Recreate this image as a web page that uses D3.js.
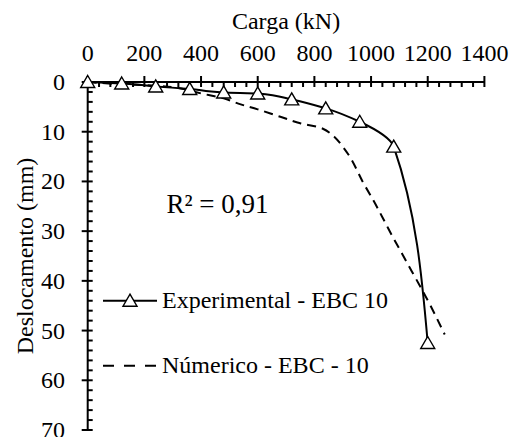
<!DOCTYPE html>
<html><head><meta charset="utf-8">
<script src="https://cdn.jsdelivr.net/npm/d3@7"></script>
<style>body{margin:0;background:#fff}</style>
</head><body>
<svg id="c" width="510" height="437"></svg>
<script>
const xTicks = [0, 200, 400, 600, 800, 1000, 1200, 1400];
const yTicks = [0, 10, 20, 30, 40, 50, 60, 70];
const expLoad = [0, 120, 240, 360, 480, 600, 720, 840, 960, 1080, 1200];
const expDisp = [0, 0.3, 0.9, 1.4, 2.1, 2.3, 3.5, 5.3, 8.0, 13.0, 52.5];
const numLoad = [0, 100, 250, 320, 400, 480, 540, 600, 680, 750, 830, 870, 900, 930, 970, 1010, 1040, 1075, 1110, 1145, 1180, 1210, 1260];
const numDisp = [0, 0.4, 0.8, 1.2, 2.3, 3.3, 4.5, 5.5, 7.0, 8.3, 9.4, 11, 13, 15.5, 20, 24, 27.2, 31, 34.6, 38.2, 41.8, 45, 50.8];
const seriesNames = ["Experimental - EBC 10", "Númerico - EBC - 10"];
const xTitle = "Carga (kN)";
const yTitle = "Deslocamento (mm)";
const r2Label = "R² = 0,91";

const FONT = '"Liberation Serif", monospace';
const svg = d3.select("#c");
const x = d3.scaleLinear().domain([0, 1400]).range([87.7, 484.4]);
const y = d3.scaleLinear().domain([0, 70]).range([82, 430]);

// axes
const g = svg.append("g").attr("stroke", "#000");
g.append("line").attr("x1", x(0)).attr("x2", x(1400)).attr("y1", y(0)).attr("y2", y(0)).attr("stroke-width", 2);
g.append("line").attr("x1", x(0)).attr("x2", x(0)).attr("y1", y(0)).attr("y2", y(70)).attr("stroke-width", 2);
const xMinor = d3.range(0, 1400.1, 40).filter(v => v % 200 !== 0);
const yMinor = d3.range(0, 70.1, 2).filter(v => v % 10 !== 0);
g.selectAll(".xm").data(xMinor).join("line").attr("x1", d => x(d)).attr("x2", d => x(d)).attr("y1", y(0)).attr("y2", y(0) + 5).attr("stroke-width", 2);
g.selectAll(".xM").data(xTicks).join("line").attr("x1", d => x(d)).attr("x2", d => x(d)).attr("y1", y(0) - 6).attr("y2", y(0) + 5).attr("stroke-width", 2);
g.selectAll(".ym").data(yMinor).join("line").attr("y1", d => y(d)).attr("y2", d => y(d)).attr("x1", x(0)).attr("x2", x(0) + 5).attr("stroke-width", 2);
g.selectAll(".yM").data(yTicks).join("line").attr("y1", d => y(d)).attr("y2", d => y(d)).attr("x1", x(0) - 6).attr("x2", x(0) + 5).attr("stroke-width", 2);

// texts directly on the svg
svg.selectAll("text.xl").data(xTicks).join("text").attr("class", "xl").attr("x", d => x(d)).attr("y", 61).attr("text-anchor", "middle").attr("font-size", 24).style("font-family", FONT).text(d => d);
svg.selectAll("text.yl").data(yTicks).join("text").attr("class", "yl").attr("x", 65).attr("y", d => y(d) + 8).attr("text-anchor", "end").attr("font-size", 24).style("font-family", FONT).text(d => d);
svg.append("text").attr("x", (x(0) + x(1400)) / 2).attr("y", 29).attr("text-anchor", "middle").attr("font-size", 24).style("font-family", FONT).text(xTitle);
svg.append("text").attr("transform", `translate(33,${(y(0) + y(70)) / 2}) rotate(-90)`).attr("text-anchor", "middle").attr("font-size", 24).style("font-family", FONT).text(yTitle);
svg.append("text").attr("x", 166.5).attr("y", 213).attr("font-size", 27).style("font-family", FONT).text(r2Label);

// series
const expData = expLoad.map((v, i) => [v, expDisp[i]]);
const numData = numLoad.map((v, i) => [v, numDisp[i]]);
const lineNum = d3.line().x(d => x(d[0])).y(d => y(d[1])).curve(d3.curveCatmullRom.alpha(0.5));
const lineExp = d3.line().x(d => x(d[0])).y(d => y(d[1])).curve(d3.curveMonotoneY);
svg.append("path").datum(numData).attr("d", lineNum).attr("fill", "none").attr("stroke", "#000").attr("stroke-width", 2).attr("stroke-dasharray", "9,6");
svg.append("path").datum(expData).attr("d", lineExp).attr("fill", "none").attr("stroke", "#000").attr("stroke-width", 2);
const tri = "M0,-6.5L7,5.5L-7,5.5Z";
svg.selectAll("path.m").data(expData).join("path").attr("class", "m").attr("d", tri).attr("transform", d => `translate(${x(d[0])},${y(d[1])})`).attr("fill", "#fff").attr("stroke", "#000").attr("stroke-width", 1.4);

// legend
svg.append("line").attr("x1", 103).attr("x2", 157).attr("y1", 300.7).attr("y2", 300.7).attr("stroke", "#000").attr("stroke-width", 2);
svg.append("path").attr("d", tri).attr("transform", "translate(130,300.7)").attr("fill", "#fff").attr("stroke", "#000").attr("stroke-width", 1.4);
svg.append("line").attr("x1", 103).attr("x2", 157).attr("y1", 365.7).attr("y2", 365.7).attr("stroke", "#000").attr("stroke-width", 2).attr("stroke-dasharray", "11,10");
svg.append("text").attr("x", 162).attr("y", 308.3).attr("font-size", 24).style("font-family", FONT).text(seriesNames[0]);
svg.append("text").attr("x", 162).attr("y", 373.3).attr("font-size", 24).style("font-family", FONT).text(seriesNames[1]);
</script>
</body></html>
